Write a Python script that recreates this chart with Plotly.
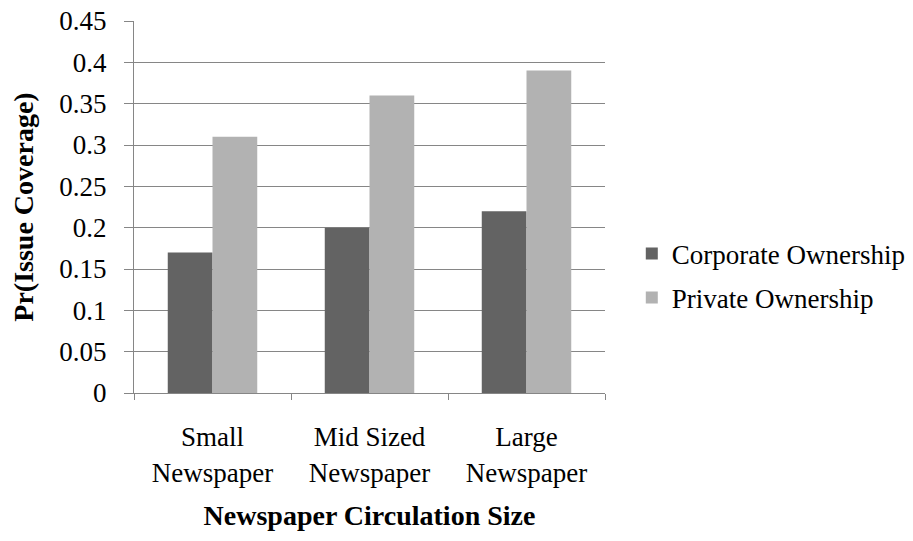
import plotly.graph_objects as go

categories = ["Small<br>Newspaper", "Mid Sized<br>Newspaper", "Large<br>Newspaper"]
corporate = [0.17, 0.20, 0.22]
private = [0.31, 0.36, 0.39]
series_names = ["Corporate Ownership", "Private Ownership"]
colors = ["#636363", "#b2b2b2"]

font_family = "Liberation Serif, Times New Roman, serif"

fig = go.Figure()
fig.add_trace(go.Bar(x=categories, y=corporate, name=series_names[0], legendgroup="a",
                     marker=dict(color=colors[0], line=dict(width=0))))
fig.add_trace(go.Bar(x=categories, y=private, name=series_names[1], legendgroup="b",
                     marker=dict(color=colors[1], line=dict(width=0))))

fig.update_layout(
    width=913, height=541,
    margin=dict(l=134, r=308, t=21, b=148, autoexpand=False),
    paper_bgcolor="white", plot_bgcolor="white",
    barmode="group", bargap=0.43, bargroupgap=0,
    font=dict(family=font_family, size=28, color="black"),
    showlegend=True,
    legend=dict(xref="container", yref="container", x=0.692, xanchor="left",
                y=0.49, yanchor="middle",
                font=dict(size=27), tracegroupgap=6, itemsizing="constant"),
)
fig.update_xaxes(
    automargin=False,
    showline=True, linecolor="#868686", linewidth=1,
    ticks="outside", tickson="boundaries", ticklen=6, tickcolor="#868686",
    ticklabelstandoff=20,
    showgrid=False,
    title=dict(text="<b>Newspaper Circulation Size</b>", font=dict(size=28), standoff=18),
    tickfont=dict(size=27),
)
fig.update_yaxes(
    automargin=False,
    range=[0, 0.45], dtick=0.05, tick0=0,
    showline=True, linecolor="#868686", linewidth=1,
    ticks="outside", ticklen=9, tickcolor="#868686",
    ticklabelstandoff=12,
    showgrid=True, gridcolor="#868686", gridwidth=1,
    zeroline=False,
    title=dict(text="<b>Pr(Issue Coverage)</b>", font=dict(size=28), standoff=17),
    tickfont=dict(size=27),
)

fig.write_html("out.html")
